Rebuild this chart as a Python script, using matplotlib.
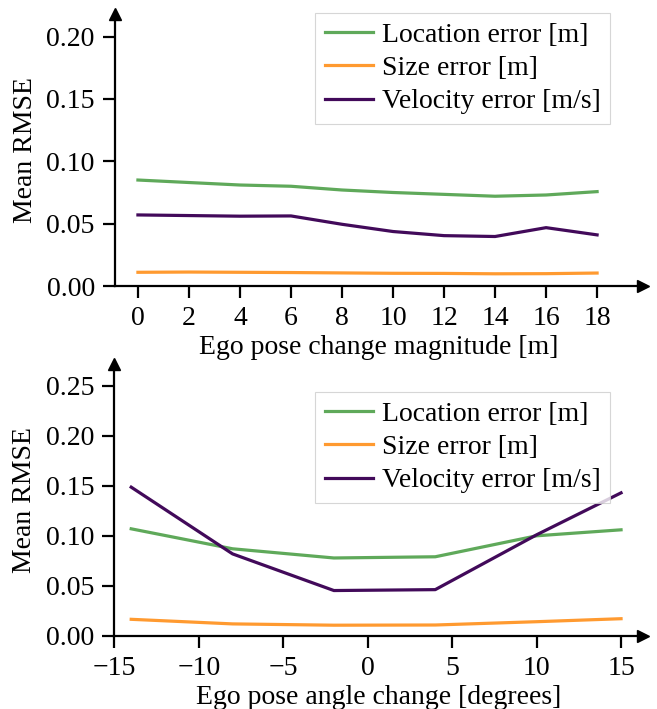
import matplotlib
matplotlib.use("Agg")
import matplotlib.pyplot as plt

plt.rcParams['font.family'] = ['Liberation Serif', 'DejaVu Serif']
plt.rcParams['mathtext.fontset'] = 'stix'
plt.rcParams['font.size'] = 20

# top panel: ego pose change magnitude [m]
mag_x = [0, 2, 4, 6, 8, 10, 12, 14, 16, 18]
mag_loc = [0.085, 0.083, 0.081, 0.080, 0.077, 0.075, 0.0735, 0.072, 0.073, 0.0757]
mag_size = [0.011, 0.0112, 0.011, 0.0108, 0.0105, 0.0102, 0.0101, 0.0098, 0.0099, 0.0104]
mag_vel = [0.057, 0.0565, 0.056, 0.0562, 0.0495, 0.0437, 0.0404, 0.0397, 0.0468, 0.041]

# bottom panel: ego pose angle change [degrees]
ang_x = [-14, -8, -2, 4, 10, 15]
ang_loc = [0.107, 0.087, 0.0778, 0.079, 0.100, 0.106]
ang_size = [0.0164, 0.0118, 0.0105, 0.0107, 0.014, 0.017]
ang_vel = [0.1487, 0.0819, 0.0452, 0.0461, 0.101, 0.143]

labels = ['Location error [m]', 'Size error [m]', 'Velocity error [m/s]']
colors = ['#5fa95a', '#ff9a30', '#420a5a']

fig = plt.figure(figsize=(6.57, 7.09), dpi=100)
ax1 = fig.add_axes([0.175, 0.5966, 0.8037, 0.3834])
ax2 = fig.add_axes([0.174, 0.1034, 0.8047, 0.3832])


def style(ax, leg_top):
    ax.spines['top'].set_visible(False)
    ax.spines['right'].set_visible(False)
    ax.spines['left'].set_linewidth(1.6)
    ax.spines['bottom'].set_linewidth(1.6)
    ax.tick_params(width=1.6, length=8.5, pad=6)
    ax.plot(1, 0, '>k', markersize=9, transform=ax.transAxes, clip_on=False)
    ax.plot(0, 1, '^k', markersize=9, transform=ax.transAxes, clip_on=False)
    ax.set_ylabel('Mean RMSE', labelpad=6)
    leg = ax.legend(loc='upper right', bbox_to_anchor=(0.938, leg_top), fancybox=False,
                    handlelength=1.75, handletextpad=0.3, borderpad=0.35,
                    labelspacing=0.28, borderaxespad=0)
    leg.get_frame().set_edgecolor('#cccccc')
    leg.get_frame().set_linewidth(0.8)


for y, lab, c in zip([mag_loc, mag_size, mag_vel], labels, colors):
    ax1.plot(mag_x, y, color=c, lw=2.3, label=lab)
ax1.set_xlim(-0.9, 19.8)
ax1.set_ylim(0, 0.218)
ax1.set_xticks(range(0, 19, 2))
ax1.set_yticks([0, 0.05, 0.10, 0.15, 0.20])
ax1.set_yticklabels(['0.00', '0.05', '0.10', '0.15', '0.20'])
ax1.set_xlabel('Ego pose change magnitude [m]', labelpad=3)
style(ax1, 1.005)

for y, lab, c in zip([ang_loc, ang_size, ang_vel], labels, colors):
    ax2.plot(ang_x, y, color=c, lw=2.3, label=lab)
ax2.set_xlim(-15, 16.3)
ax2.set_ylim(0, 0.272)
ax2.set_xticks([-15, -10, -5, 0, 5, 10, 15])
ax2.set_xticklabels(['\u221215', '\u221210', '\u22125', '0', '5', '10', '15'])
ax2.set_yticks([0, 0.05, 0.10, 0.15, 0.20, 0.25])
ax2.set_yticklabels(['0.00', '0.05', '0.10', '0.15', '0.20', '0.25'])
ax2.set_xlabel('Ego pose angle change [degrees]', labelpad=3)
style(ax2, 0.898)

fig.savefig('out.png', dpi=100)
